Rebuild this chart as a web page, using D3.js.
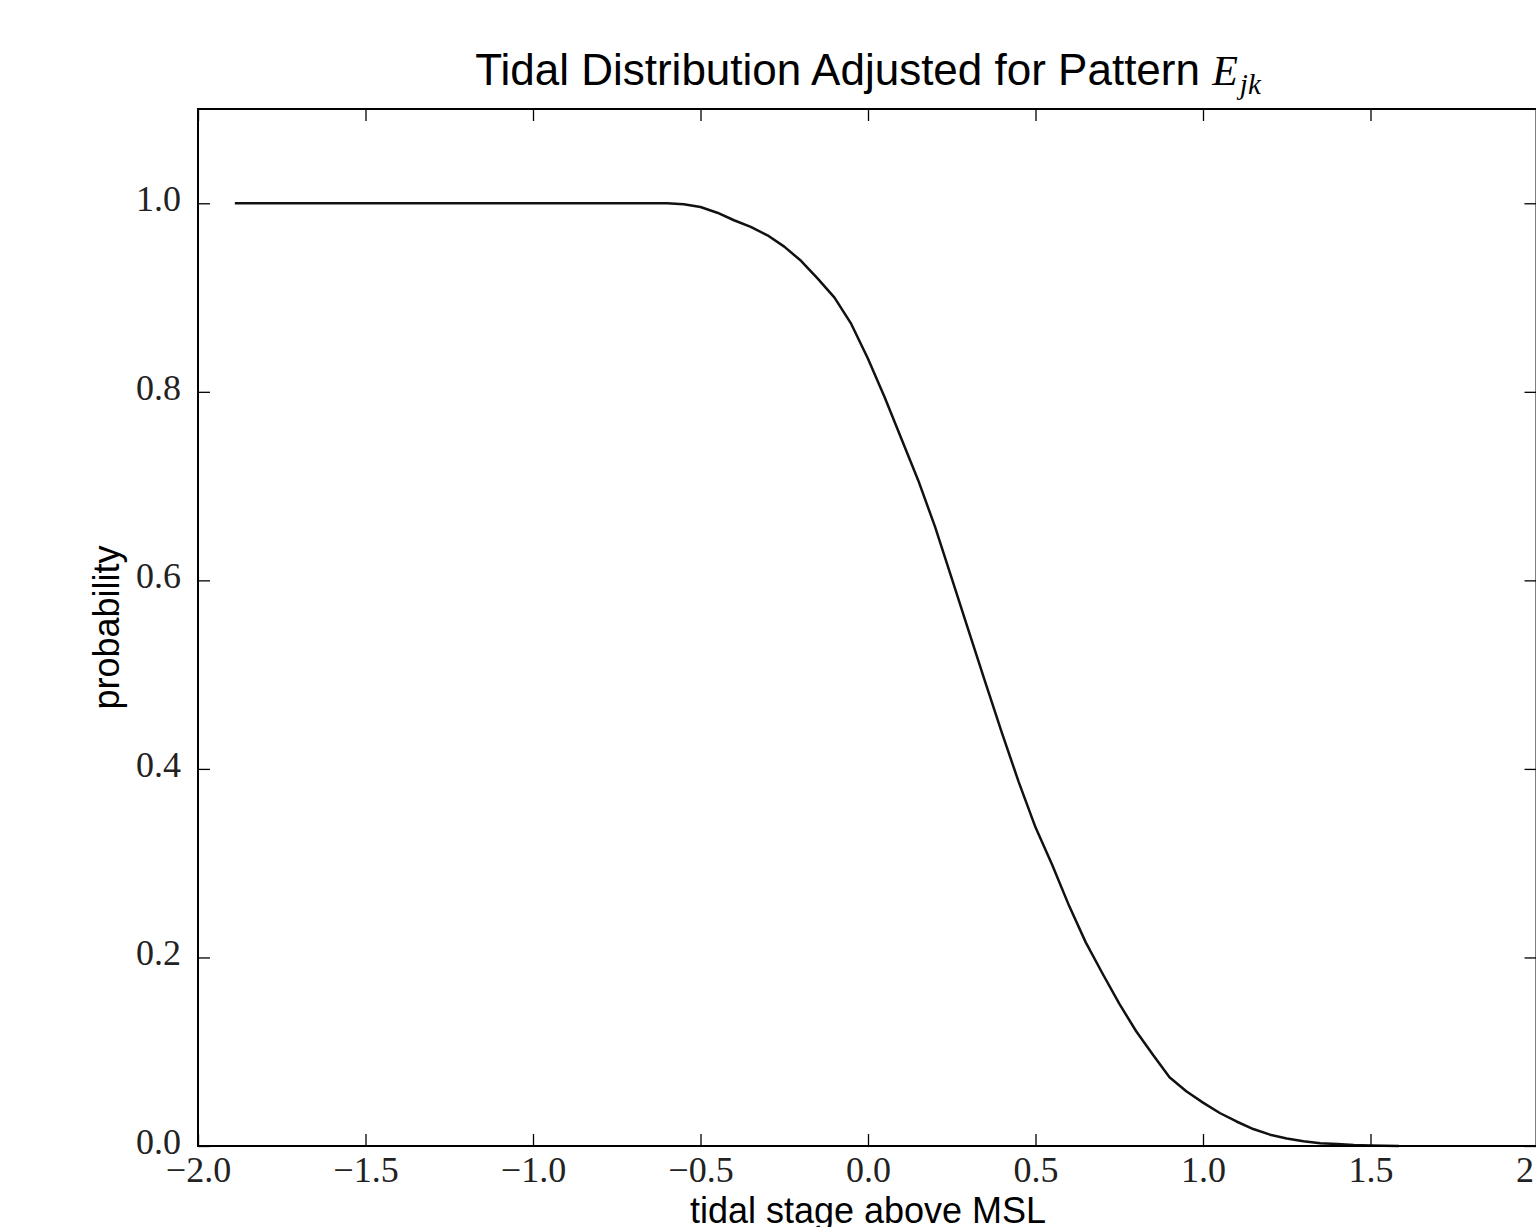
<!DOCTYPE html>
<html>
<head>
<meta charset="utf-8">
<script src="https://cdn.jsdelivr.net/npm/d3@7"></script>
<style>
  html, body { margin: 0; padding: 0; background: #fff; }
  svg { display: block; }
</style>
</head>
<body>
<svg id="chart" width="1536" height="1227"></svg>
<script>
// ---- data ----
const stage = [-1.89, -1.5, -1.0, -0.7, -0.6, -0.55, -0.5, -0.45, -0.4, -0.35, -0.3, -0.25, -0.2, -0.15, -0.1, -0.05,
  0.0, 0.05, 0.1, 0.15, 0.2, 0.25, 0.3, 0.35, 0.4, 0.45, 0.5, 0.55, 0.6, 0.65, 0.7, 0.75, 0.8, 0.85, 0.9, 0.95,
  1.0, 1.05, 1.1, 1.15, 1.2, 1.25, 1.3, 1.35, 1.4, 1.45, 1.5, 1.585];
const probability = [1.0, 1.0, 1.0, 1.0, 1.0, 0.999, 0.996, 0.990, 0.982, 0.975, 0.966, 0.954, 0.939, 0.920, 0.900, 0.872,
  0.835, 0.794, 0.750, 0.706, 0.657, 0.602, 0.547, 0.492, 0.438, 0.386, 0.338, 0.298, 0.255, 0.216, 0.183, 0.151, 0.122, 0.097, 0.073, 0.058,
  0.046, 0.035, 0.026, 0.018, 0.012, 0.008, 0.005, 0.003, 0.002, 0.001, 0.0005, 0.0];
const xTicks = [-2.0, -1.5, -1.0, -0.5, 0.0, 0.5, 1.0, 1.5, 2.0];
const yTicks = [0.0, 0.2, 0.4, 0.6, 0.8, 1.0];
const titleText = "Tidal Distribution Adjusted for Pattern ";
const xLabel = "tidal stage above MSL";
const yLabel = "probability";

// ---- layout ----
const svg = d3.select("#chart");
const padL = 198, padR = 1538, padT = 109, padB = 1146;
const x = d3.scaleLinear().domain([-2, 2]).range([padL, padR]);
const y = d3.scaleLinear().domain([0, 1.1]).range([padB, padT]);

const fmt = v => (v < 0 ? "\u2212" : "") + Math.abs(v).toFixed(1);
const serif = "'Liberation Serif', 'DejaVu Serif', serif";
const sans = "'Liberation Sans', Arial, sans-serif";

// line
const line = d3.line().x((d, i) => x(stage[i])).y(d => y(d));
svg.append("path")
  .datum(probability)
  .attr("d", line)
  .attr("fill", "none")
  .attr("stroke", "#111")
  .attr("stroke-width", 2.5)
  .attr("stroke-linejoin", "round");

// axes
function styleAxis(g) {
  g.select(".domain").remove();
  g.selectAll(".tick line").attr("stroke", "#000").attr("stroke-width", 1.3);
  g.selectAll(".tick text").attr("fill", "#222").style("font-family", serif).style("font-size", "36px");
}
const gx = svg.append("g").attr("transform", `translate(0,${padB})`)
  .call(d3.axisBottom(x).tickValues(xTicks).tickFormat(fmt).tickSize(-12).tickPadding(10));
styleAxis(gx);
const gxTop = svg.append("g").attr("transform", `translate(0,${padT})`)
  .call(d3.axisTop(x).tickValues(xTicks).tickFormat("").tickSize(-12));
styleAxis(gxTop);
const gy = svg.append("g").attr("transform", `translate(${padL},0)`)
  .call(d3.axisLeft(y).tickValues(yTicks).tickFormat(fmt).tickSize(-12).tickPadding(17));
styleAxis(gy);
gy.selectAll(".tick text").attr("dy", "0.2em");
const gyRight = svg.append("g").attr("transform", `translate(${padR - 1.5},0)`)
  .call(d3.axisRight(y).tickValues(yTicks).tickFormat("").tickSize(-12));
styleAxis(gyRight);

// frame
svg.append("rect")
  .attr("x", padL).attr("y", padT)
  .attr("width", padR - 1.5 - padL).attr("height", padB - padT)
  .attr("fill", "none").attr("stroke", "#000").attr("stroke-width", 2);

// title
const title = svg.append("text")
  .attr("x", (padL + padR) / 2).attr("y", 85)
  .attr("text-anchor", "middle")
  .style("font-family", sans).style("font-size", "44px").attr("fill", "#000");
title.append("tspan").text(titleText);
title.append("tspan").text("E").style("font-family", serif).style("font-style", "italic").style("font-size", "42px");
title.append("tspan").text("jk").attr("dx", 2).attr("dy", 9).style("font-family", serif).style("font-style", "italic").style("font-size", "29px");

// axis labels
svg.append("text")
  .attr("x", (padL + padR) / 2).attr("y", 1223)
  .attr("text-anchor", "middle")
  .style("font-family", sans).style("font-size", "36px").attr("fill", "#000")
  .text(xLabel);
svg.append("text")
  .attr("transform", `translate(119,${(padT + padB) / 2}) rotate(-90)`)
  .attr("text-anchor", "middle")
  .style("font-family", sans).style("font-size", "36px").attr("fill", "#000")
  .text(yLabel);
</script>
</body>
</html>
